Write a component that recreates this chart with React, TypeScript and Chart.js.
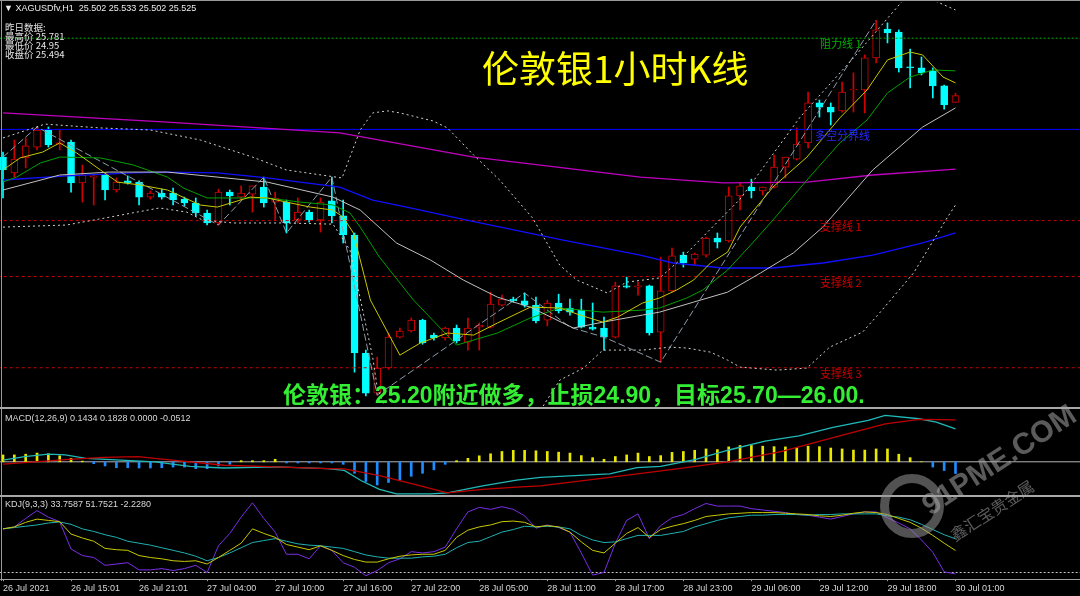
import React, { useEffect, useRef } from 'react';
import { Chart, registerables } from 'chart.js';

Chart.register(...registerables);

// ---------------- candles (XAGUSD H1) ----------------
const openP = [
  25.316, 25.262, 25.313, 25.35, 25.408, 25.36, 25.367, 25.228, 25.248, 25.255,
  25.204, 25.235, 25.231, 25.18, 25.194, 25.194, 25.173, 25.16, 25.126, 25.092,
  25.197, 25.18, 25.19, 25.214, 25.163, 25.163, 25.102, 25.129, 25.102, 25.167,
  25.116, 25.051, 24.65, 24.514, 24.599, 24.704, 24.725, 24.762, 24.711, 24.701,
  24.735, 24.687, 24.738, 24.738, 24.813, 24.833, 24.827, 24.813, 24.762, 24.82,
  24.803, 24.796, 24.738, 24.735, 24.704, 24.878, 24.874, 24.878, 24.721, 24.861,
  24.983, 24.969, 24.983, 25.041, 25.031, 25.184, 25.214, 25.201, 25.214, 25.282,
  25.309, 25.364, 25.5, 25.486, 25.473, 25.544, 25.544, 25.653, 25.751, 25.741,
  25.622, 25.619, 25.609, 25.558, 25.502,
];
const highP = [
  25.333, 25.374, 25.381, 25.418, 25.418, 25.408, 25.374, 25.289, 25.255, 25.258,
  25.245, 25.252, 25.235, 25.201, 25.207, 25.211, 25.18, 25.177, 25.136, 25.207,
  25.204, 25.218, 25.218, 25.248, 25.197, 25.17, 25.177, 25.136, 25.177, 25.248,
  25.17, 25.058, 24.66, 24.636, 24.718, 24.735, 24.769, 24.765, 24.718, 24.738,
  24.745, 24.769, 24.752, 24.857, 24.847, 24.84, 24.854, 24.84, 24.83, 24.85,
  24.833, 24.833, 24.82, 24.772, 24.891, 24.908, 24.891, 24.881, 24.976, 25.007,
  24.993, 24.99, 25.044, 25.058, 25.214, 25.228, 25.241, 25.214, 25.323, 25.316,
  25.415, 25.537, 25.51, 25.5, 25.571, 25.602, 25.663, 25.781, 25.772, 25.748,
  25.683, 25.656, 25.619, 25.561, 25.533,
];
const lowP = [
  25.177, 25.248, 25.279, 25.34, 25.35, 25.34, 25.197, 25.163, 25.153, 25.17,
  25.197, 25.224, 25.153, 25.173, 25.173, 25.153, 25.15, 25.116, 25.085, 25.085,
  25.153, 25.17, 25.129, 25.146, 25.102, 25.058, 25.092, 25.095, 25.061, 25.092,
  25.024, 24.585, 24.504, 24.507, 24.595, 24.701, 24.721, 24.68, 24.694, 24.694,
  24.684, 24.66, 24.66, 24.735, 24.81, 24.823, 24.806, 24.752, 24.742, 24.786,
  24.779, 24.735, 24.728, 24.66, 24.701, 24.871, 24.847, 24.711, 24.619, 24.857,
  24.942, 24.95, 24.976, 25.007, 25.027, 25.136, 25.177, 25.187, 25.211, 25.245,
  25.306, 25.347, 25.452, 25.425, 25.469, 25.469, 25.466, 25.636, 25.704, 25.605,
  25.551, 25.595, 25.517, 25.479, 25.502,
];
const closeP = [
  25.272, 25.309, 25.354, 25.408, 25.357, 25.364, 25.228, 25.255, 25.252, 25.204,
  25.231, 25.228, 25.18, 25.194, 25.18, 25.17, 25.16, 25.126, 25.092, 25.197,
  25.184, 25.194, 25.218, 25.16, 25.177, 25.092, 25.129, 25.102, 25.163, 25.116,
  25.051, 24.65, 24.514, 24.599, 24.704, 24.725, 24.762, 24.684, 24.701, 24.735,
  24.691, 24.735, 24.745, 24.816, 24.833, 24.827, 24.813, 24.759, 24.82, 24.793,
  24.789, 24.738, 24.731, 24.704, 24.878, 24.874, 24.878, 24.718, 24.861, 24.98,
  24.956, 24.986, 25.041, 25.027, 25.184, 25.218, 25.201, 25.214, 25.282, 25.316,
  25.36, 25.5, 25.486, 25.469, 25.537, 25.547, 25.653, 25.748, 25.738, 25.619,
  25.619, 25.602, 25.558, 25.493, 25.525,
];

// ---------------- time axis ----------------
const tickIdx = [0, 6, 12, 18, 24, 30, 36, 42, 48, 54, 60, 66, 72, 78, 84];
const tickLabels = [
  '26 Jul 2021', '26 Jul 15:01', '26 Jul 21:01', '27 Jul 04:00', '27 Jul 10:00',
  '27 Jul 16:00', '27 Jul 22:00', '28 Jul 05:00', '28 Jul 11:00', '28 Jul 17:00',
  '28 Jul 23:00', '29 Jul 06:00', '29 Jul 12:00', '29 Jul 18:00', '30 Jul 01:00',
];

// ---------------- indicator lines on price panel ([bar index, price]) ----------------
const ma5Pts = [[0,25.272],[1.5,25.313],[3.5,25.333],[5,25.364],[6.5,25.33],[8.6,25.272],[10.1,25.231],[12.1,25.221],[14.5,25.204],[17.4,25.153],[18.9,25.146],[21.8,25.18],[23.3,25.177],[25,25.163],[27.1,25.146],[29.1,25.136],[30,25.112],[30.9,25.058],[32.4,24.83],[35,24.643],[36.8,24.684],[39.2,24.718],[41.5,24.711],[43.6,24.752],[46.5,24.806],[49.1,24.803],[50.9,24.779],[52.9,24.755],[54.2,24.772],[56.4,24.82],[57.9,24.837],[59.4,24.864],[60.9,24.898],[62.4,24.956],[63.9,24.993],[65,25.078],[67.9,25.214],[70.9,25.316],[73.8,25.449],[76.2,25.544],[78,25.646],[80,25.673],[81.1,25.663],[82.9,25.588],[84,25.568]];
const ma10Pts = [[0,25.231],[1.2,25.248],[3.3,25.296],[5,25.316],[8.6,25.313],[11.5,25.289],[14.5,25.248],[15.9,25.211],[18,25.177],[23.3,25.177],[26.2,25.163],[29.1,25.153],[30.6,25.126],[31.5,25.078],[33.2,24.976],[36.2,24.83],[40,24.677],[43.6,24.718],[46.5,24.769],[49.1,24.803],[52.9,24.789],[56.4,24.796],[57.9,24.803],[60.3,24.837],[61.7,24.864],[63.9,24.932],[66.1,25.024],[67.9,25.102],[70.9,25.238],[73.8,25.364],[76.2,25.442],[78,25.534],[80,25.588],[82,25.612],[84,25.609]];
const ma20Pts = [[0,25.204],[5,25.255],[9.4,25.265],[14.5,25.265],[23.3,25.231],[29.1,25.18],[31.5,25.136],[34.7,25.024],[37.7,24.966],[40.6,24.898],[43.6,24.84],[46.5,24.806],[50.3,24.735],[52.9,24.755],[56.4,24.779],[57.9,24.789],[60.9,24.823],[63.9,24.857],[66.8,24.922],[69.7,24.99],[72.3,25.078],[76.7,25.272],[81.1,25.418],[84,25.483]];
const bbUpperPts = [[0,25.381],[3.7,25.428],[8.6,25.415],[13,25.408],[17.4,25.374],[22,25.316],[25,25.272],[29.9,25.245],[31.5,25.408],[32.6,25.466],[33.9,25.473],[35,25.466],[37.9,25.439],[39.2,25.415],[41.5,25.323],[43.8,25.238],[46.7,25.109],[49.1,24.949],[50.6,24.898],[53.3,24.854],[55,24.891],[57.9,24.905],[59.7,24.966],[65,25.173],[70.3,25.452],[75,25.653],[79.4,25.85],[80.7,25.877],[82,25.85],[84,25.816]];
const bbLowerPts = [[0,25.078],[5.6,25.085],[13.8,25.143],[16.2,25.129],[17.6,25.102],[20.3,25.092],[25,25.092],[29.1,25.088],[30.6,25.0],[32.6,24.636],[33,24.534],[34.1,24.422],[37.7,24.354],[43.8,24.354],[47.4,24.456],[49.1,24.558],[51.2,24.599],[52.9,24.66],[56.4,24.66],[58.8,24.67],[60.3,24.667],[62.4,24.653],[63.9,24.626],[65,24.602],[68.3,24.592],[70.9,24.599],[72.9,24.67],[75.8,24.721],[77.3,24.786],[80.3,24.922],[83.3,25.112],[84,25.153]];
const ma60Pts = [[0,25.238],[5.6,25.252],[11.5,25.262],[14.5,25.265],[18.9,25.262],[23.3,25.245],[26.2,25.231],[29.7,25.214],[32.6,25.17],[35.6,25.146],[40.9,25.102],[49.4,25.034],[56.2,24.983],[59.1,24.956],[63.5,24.939],[67.9,24.939],[72.3,24.956],[76.7,24.983],[81.1,25.024],[84,25.058]];
const ma120Pts = [[0,25.466],[14.5,25.435],[29.7,25.398],[41.5,25.316],[56.2,25.248],[63.5,25.228],[70.9,25.231],[76.7,25.255],[84,25.275]];
const zigzagPts = [[0,25.316],[3,25.418],[19,25.085],[23,25.248],[25,25.058],[29,25.248],[33,24.507],[46,24.854],[50,24.738],[53,24.704],[58,24.619],[77,25.781]];

// ---------------- horizontal levels ----------------
const levelValues = [25.72, 25.41, 25.10, 24.91, 24.60];
const levelNames = ['阻力线 1', '多空分界线', '支撑线 1', '支撑线 2', '支撑线 3'];

// ---------------- MACD(12,26,9) ----------------
const macdHist = [
  0.030, 0.030, 0.033, 0.038, 0.035, 0.026, 0.015, 0.003, -0.008, -0.018,
  -0.026, -0.026, -0.027, -0.027, -0.026, -0.023, -0.023, -0.030, -0.030, -0.018,
  -0.011, 0.005, 0.005, 0.005, 0.011, -0.005, -0.005, -0.005, -0.005, -0.005,
  -0.011, -0.050, -0.086, -0.101, -0.090, -0.080, -0.063, -0.050, -0.035, -0.011,
  0.005, 0.015, 0.026, 0.035, 0.045, 0.050, 0.050, 0.048, 0.045, 0.042,
  0.038, 0.027, 0.018, 0.011, 0.023, 0.030, 0.038, 0.023, 0.027, 0.041,
  0.045, 0.050, 0.056, 0.053, 0.065, 0.071, 0.071, 0.068, 0.066, 0.065,
  0.063, 0.068, 0.066, 0.060, 0.056, 0.051, 0.051, 0.056, 0.056, 0.033,
  0.018, 0.000, -0.023, -0.038, -0.0512,
];
const macdMainPts = [[0,0.0075],[1.9,0.0225],[4,0.033],[5.5,0.03],[7.3,0.015],[10.4,0.0075],[13.4,0],[16.5,-0.0195],[19.5,-0.027],[24.1,-0.0225],[28.6,-0.03],[30.1,-0.0375],[31.6,-0.0825],[33.2,-0.12],[34.7,-0.14],[37.7,-0.14],[39.2,-0.135],[42.3,-0.105],[45.3,-0.08],[47.4,-0.0675],[50.4,-0.06],[53.5,-0.0525],[55.9,-0.0255],[58,-0.0195],[61.1,0.0105],[64.1,0.0525],[67.2,0.09],[70.2,0.1125],[73.2,0.15],[76.3,0.18],[77.8,0.2025],[80.8,0.1875],[82.3,0.1725],[84,0.1434]];
const macdSignalPts = [[0,-0.0105],[2.8,0],[5.8,0.0105],[8.9,0.0195],[11.9,0.0225],[14.9,0.0075],[19.5,-0.015],[24.1,-0.0225],[28.6,-0.03],[30.1,-0.031],[33.2,-0.06],[36.2,-0.0975],[39.2,-0.135],[42.3,-0.12],[45.3,-0.11],[47.4,-0.105],[53.5,-0.0675],[59.6,-0.03],[63.9,0],[68.7,0.045],[73.2,0.105],[77.8,0.165],[80.8,0.1845],[84,0.1828]];

// ---------------- KDJ(9,3,3) ----------------
const kdjK = [
  67, 70, 77, 82, 80, 78, 59, 53, 48, 37, 35, 34, 26, 23, 21, 18, 17, 18, 13, 23,
  34, 45, 67, 60, 54, 43, 39, 35, 41, 34, 26, 20, 16, 16, 21, 25, 27, 28, 28, 34,
  54, 65, 70, 73, 78, 79, 77, 70, 72, 70, 62, 47, 34, 30, 45, 60, 69, 54, 66, 71,
  75, 80, 86, 88, 90, 91, 92, 92, 92, 91, 90, 89, 87, 86, 88, 91, 93, 92, 89, 83,
  77, 68, 57, 45, 33.7587,
];
const kdjD = [
  67, 69, 71, 73, 76, 77.6, 74, 67, 63, 58, 54, 48, 45, 42, 38, 34, 30, 25, 18, 23,
  30, 38, 46, 49, 52, 48, 44, 42, 41, 39, 37, 32, 27, 24, 22, 22, 22, 24, 25, 28,
  38, 46, 48, 55, 62, 66, 71, 70, 71, 70, 67, 57, 50, 46, 47, 52, 57, 57, 57, 60,
  63, 70, 75, 80, 84, 86, 88, 88, 89, 89, 89, 88, 89, 89, 90, 90, 90, 90, 87, 85,
  81, 74, 66, 58, 51.7521,
];
const kdjJ = [
  67, 70, 83, 95, 85, 78, 36, 26, 23, 11, 13, 15, 4, 4, 6, 3, 6, 11, 0, 41,
  60, 85, 107, 83, 62, 28, 28, 21, 41, 34, 15, 8, -5, 3, 15, 21, 32, 30, 32, 39,
  67, 93, 100, 97, 101, 97, 87, 68, 73, 69, 62, 30, -4, 0, 45, 80, 90, 52, 72, 84,
  89, 98, 106, 102, 102, 102, 98, 96, 94, 92, 89, 88, 85, 82, 86, 90, 93, 93, 84, 76,
  67, 50, 31, 1, -2.228,
];

// ---------------- styling / layout (not data) ----------------
const BULL = '#d00000';
const BEAR = '#00ffff';
const X_MIN = -0.265;
const X_MAX = 94.98;
const FONT_LATIN = '"Liberation Sans", Arial, sans-serif';
const FONT_CJK = '"Noto Sans CJK SC", sans-serif';
const levelStyle = [
  { color: '#00b000', dash: [2, 2], label: '#00b000' },
  { color: '#0000ff', dash: [], label: '#2828ff' },
  { color: '#c80000', dash: [3, 3], label: '#d00000' },
  { color: '#c80000', dash: [3, 3], label: '#d00000' },
  { color: '#c80000', dash: [3, 3], label: '#d00000' },
];

const pts = (a: number[][]) => a.map(([x, y]) => ({ x, y }));
const ser = (a: number[]) => a.map((y, i) => ({ x: i, y }));

const lineDs = (data: any[], color: string, dash: number[] = [], order = 1, width = 1) => ({
  type: 'line' as const,
  data,
  borderColor: color,
  borderWidth: width,
  borderDash: dash,
  pointRadius: 0,
  tension: 0,
  fill: false,
  order,
});

const xScale = (show: boolean) => ({
  type: 'linear' as const,
  min: X_MIN,
  max: X_MAX,
  bounds: 'data' as const,
  offset: false,
  display: show,
  afterBuildTicks: (s: any) => {
    s.ticks = tickIdx.map((v) => ({ value: v }));
  },
  ticks: {
    autoSkip: false,
    maxRotation: 0,
    minRotation: 0,
    align: 'start' as const,
    padding: 2,
    color: '#d8d8d8',
    font: { size: 9, family: FONT_LATIN },
    callback: (_v: any, i: number) => tickLabels[i],
  },
  grid: { display: true, drawOnChartArea: false, drawTicks: true, tickLength: 2, color: '#a0a0a0' },
  border: { display: true, color: '#a0a0a0', width: 1 },
});

const baseOptions = (yMin: number, yMax: number, showX: boolean) => ({
  responsive: false,
  animation: false as const,
  events: [] as any[],
  layout: { padding: 0 },
  plugins: { legend: { display: false }, tooltip: { enabled: false }, title: { display: false } },
  scales: {
    x: xScale(showX),
    y: { type: 'linear' as const, min: yMin, max: yMax, bounds: 'data' as const, display: false },
  },
});

const levelLabelPlugin = {
  id: 'levelLabels',
  afterDatasetsDraw(chart: any) {
    const { ctx, scales } = chart;
    ctx.save();
    ctx.font = '11px "Noto Sans CJK SC", sans-serif';
    ctx.textBaseline = 'middle';
    ctx.textAlign = 'left';
    levelValues.forEach((v, k) => {
      ctx.fillStyle = levelStyle[k].label;
      ctx.fillText(levelNames[k], k === 1 ? 815 : 820, scales.y.getPixelForValue(v) + 6);
    });
    ctx.restore();
  },
};

export default function App() {
  const priceRef = useRef<HTMLCanvasElement>(null);
  const macdRef = useRef<HTMLCanvasElement>(null);
  const kdjRef = useRef<HTMLCanvasElement>(null);

  useEffect(() => {
    const charts: Chart[] = [];
    const idx = openP.map((_, i) => i);
    const bull = idx.map((i) => closeP[i] >= openP[i]);

    if (priceRef.current) {
      const levelDs = levelValues.map((v, k) =>
        lineDs([{ x: -1, y: v }, { x: 96, y: v }], levelStyle[k].color, levelStyle[k].dash, 5)
      );
      charts.push(
        new Chart(priceRef.current, {
          type: 'bar',
          data: {
            datasets: [
              ...levelDs,
              lineDs(pts(ma120Pts), '#c000c0', [], 4, 1.3),
              lineDs(pts(ma60Pts), '#1010ff', [], 4, 1.3),
              lineDs(pts(bbUpperPts), '#d0d0d0', [2, 3], 3),
              lineDs(pts(bbLowerPts), '#d0d0d0', [2, 3], 3),
              lineDs(pts(zigzagPts), '#8e9cab', [7, 3], 3),
              lineDs(pts(ma20Pts), '#c0c0c0', [], 2),
              lineDs(pts(ma10Pts), '#00a000', [], 2),
              lineDs(pts(ma5Pts), '#c8c800', [], 1),
              {
                type: 'bar',
                data: idx.map((i) => ({ x: i, y: [lowP[i], highP[i]] })),
                backgroundColor: idx.map((i) => (bull[i] ? BULL : BEAR)),
                barThickness: 1,
                grouped: false,
                order: 20,
              },
              {
                type: 'bar',
                data: idx.map((i) => ({ x: i, y: [openP[i], closeP[i]] })),
                backgroundColor: idx.map((i) => (bull[i] ? '#000000' : BEAR)),
                borderColor: idx.map((i) => (bull[i] ? BULL : BEAR)),
                borderWidth: 1,
                borderSkipped: false,
                barThickness: 7,
                minBarLength: 1,
                grouped: false,
                order: 19,
              },
            ] as any,
          },
          options: baseOptions(24.47, 25.843, false) as any,
          plugins: [levelLabelPlugin],
        })
      );
    }

    if (macdRef.current) {
      charts.push(
        new Chart(macdRef.current, {
          type: 'bar',
          data: {
            datasets: [
              lineDs([{ x: -1, y: 0 }, { x: 96, y: 0 }], '#b4b4b4', [], 6),
              lineDs(pts(macdSignalPts), '#c00000', [], 1, 1.3),
              lineDs(pts(macdMainPts), '#20b8b8', [], 1, 1.3),
              {
                type: 'bar',
                data: ser(macdHist),
                backgroundColor: macdHist.map((v) => (v >= 0 ? '#e8e800' : '#1e8cff')),
                barThickness: 2,
                grouped: false,
                order: 5,
              },
            ] as any,
          },
          options: baseOptions(-0.1446, 0.2256, false) as any,
        })
      );
    }

    if (kdjRef.current) {
      charts.push(
        new Chart(kdjRef.current, {
          type: 'line',
          data: {
            datasets: [
              lineDs([{ x: -1, y: 0 }, { x: 96, y: 0 }], '#c8c8c8', [2, 2], 6),
              lineDs(ser(kdjJ), '#7a2ee6', [], 3),
              lineDs(ser(kdjD), '#20b0b0', [], 2),
              lineDs(ser(kdjK), '#c8c800', [], 1),
            ] as any,
          },
          options: baseOptions(-10.3, 114.4, true) as any,
        })
      );
    }

    return () => charts.forEach((c) => c.destroy());
  }, []);

  const abs = (s: React.CSSProperties): React.CSSProperties => ({
    position: 'absolute',
    whiteSpace: 'nowrap',
    lineHeight: 1,
    margin: 0,
    ...s,
  });
  const last = openP.length - 1;
  const ohlc = [openP[last], highP[last], lowP[last], closeP[last]].map((v) => v.toFixed(3)).join(' ');

  return (
    <div
      style={{
        position: 'fixed',
        left: 0,
        top: 0,
        width: 1080,
        height: 596,
        background: '#000',
        overflow: 'hidden',
      }}
    >
      <canvas ref={priceRef} width={1080} height={404} style={{ position: 'absolute', left: 0, top: 2, width: 1080, height: 404 }} />
      <canvas ref={macdRef} width={1080} height={85} style={{ position: 'absolute', left: 0, top: 410, width: 1080, height: 85 }} />
      <canvas ref={kdjRef} width={1080} height={98} style={{ position: 'absolute', left: 0, top: 498, width: 1080, height: 98 }} />

      {/* frame / separators */}
      <div style={abs({ left: 0, top: 0, width: 1080, height: 1, background: '#9a9a9a' })} />
      <div style={abs({ left: 1, top: 0, width: 1, height: 581, background: '#9a9a9a' })} />
      <div style={abs({ left: 0, top: 407, width: 1080, height: 2, background: '#a8a8a8' })} />
      <div style={abs({ left: 0, top: 495, width: 1080, height: 2, background: '#a8a8a8' })} />

      {/* header */}
      <div style={abs({ left: 4, top: 3, font: `9px ${FONT_LATIN}`, color: '#ececec' })}>
        ▼&nbsp;XAGUSDfv,H1&nbsp;&nbsp;{ohlc}
      </div>
      <div style={abs({ left: 5, top: 20, font: `9.5px ${FONT_CJK}`, color: '#e4e4e4' })}>昨日数据:</div>
      <div style={abs({ left: 5, top: 29, font: `9.5px ${FONT_CJK}`, color: '#e4e4e4' })}>最高价 25.781</div>
      <div style={abs({ left: 5, top: 38, font: `9.5px ${FONT_CJK}`, color: '#e4e4e4' })}>最低价 24.95</div>
      <div style={abs({ left: 5, top: 47, font: `9.5px ${FONT_CJK}`, color: '#e4e4e4' })}>收盘价 25.494</div>

      {/* titles */}
      <div style={abs({ left: 482, top: 40, font: `37px ${FONT_CJK}`, color: '#ffff00' })}>伦敦银1小时K线</div>
      <div
        style={abs({
          left: 283,
          top: 376,
          font: `bold 23px "Liberation Sans", Arial, ${FONT_CJK}`,
          color: '#33ee33',
        })}
      >
        伦敦银：25.20附近做多，止损24.90，目标25.70—26.00.
      </div>

      {/* indicator labels */}
      <div style={abs({ left: 5, top: 413, font: `9px ${FONT_LATIN}`, color: '#d8d8d8' })}>
        MACD(12,26,9) 0.1434 0.1828 0.0000 -0.0512
      </div>
      <div style={abs({ left: 5, top: 499, font: `9px ${FONT_LATIN}`, color: '#d8d8d8' })}>
        KDJ(9,3,3) 33.7587 51.7521 -2.2280
      </div>

      {/* watermark */}
      <div
        style={abs({
          left: 880,
          top: 474,
          width: 46,
          height: 46,
          borderRadius: '50%',
          border: '9px solid rgba(150,150,150,0.55)',
        })}
      />
      <div
        style={abs({
          left: 934,
          top: 488,
          font: `bold 30px ${FONT_LATIN}`,
          color: 'rgba(165,165,165,0.55)',
          transform: 'rotate(-33deg)',
          transformOrigin: 'left bottom',
        })}
      >
        91PME.COM
      </div>
      <div
        style={abs({
          left: 958,
          top: 522,
          font: `16px ${FONT_CJK}`,
          color: 'rgba(165,165,165,0.55)',
          transform: 'rotate(-33deg)',
          transformOrigin: 'left bottom',
        })}
      >
        鑫汇宝贵金属
      </div>
    </div>
  );
}
